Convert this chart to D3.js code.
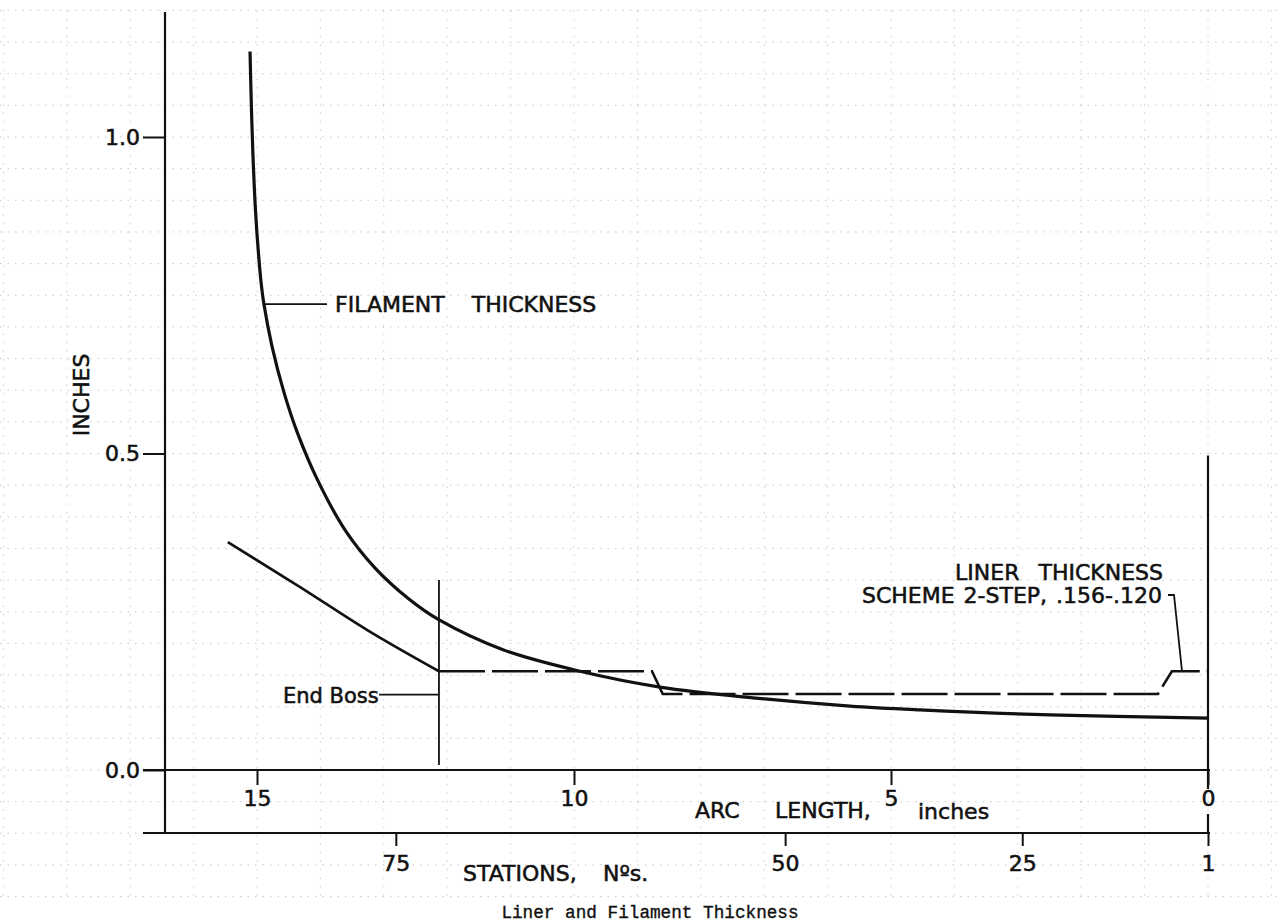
<!DOCTYPE html>
<html>
<head>
<meta charset="utf-8">
<script src="https://cdn.jsdelivr.net/npm/d3@7"></script>
<style>
  body { margin: 0; background: #fff; }
  svg { display: block; }
</style>
</head>
<body>
<svg id="c" width="1278" height="924"></svg>
<script>
// ---------- data ----------
// Filament thickness: arc length (inches) vs thickness (inches)
const filamentArc = [15.110, 15.084, 15.057, 15.022, 14.976, 14.931, 14.891, 14.765, 14.576, 14.356, 14.044, 13.610, 13.137, 12.614, 12.126, 11.120, 9.905, 8.644, 7.177, 5.647, 4.543, 2.492, 0];
const filamentIn  = [1.135, 1.032, 0.954, 0.881, 0.815, 0.766, 0.736, 0.670, 0.597, 0.531, 0.458, 0.379, 0.319, 0.271, 0.237, 0.190, 0.156, 0.131, 0.114, 0.101, 0.095, 0.087, 0.082];

// Liner thickness, solid (end boss taper) part
const linerTaperArc = [15.46, 14.32, 13.26, 12.13];
const linerTaperIn  = [0.36, 0.289, 0.221, 0.156];

// Liner thickness, 2-step scheme (dashed) part
const linerStepArc = [12.13, 8.77, 8.60, 0.79, 0.57, 0];
const linerStepIn  = [0.156, 0.156, 0.120, 0.120, 0.156, 0.156];

// Axes
const yTicks = [0, 0.5, 1.0];
const yTickLabels = ["0.0", "0.5", "1.0"];
const arcTicks = [15, 10, 5, 0];
const arcTickLabels = ["15", "10", "5", "0"];
const stationTicks = [75, 50, 25, 1];
const stationTickLabels = ["75", "50", "25", "1"];
const stationArc = [12.81, 6.67, 2.93, 0];   // arc length where each station sits

const endBossArc = 12.13;

// ---------- scales ----------
const svg = d3.select("#c");
const x = d3.scaleLinear().domain([0, 15]).range([1208, 257]);
const y = d3.scaleLinear().domain([0, 1]).range([770, 137]);
const xStation = d3.scaleLinear().domain(stationTicks).range(stationArc.map(s => x(s)));
const yStationAxis = 833;
const FONT = "DejaVu Sans";
const INK = "#111";
const TXT_STROKE = 0.55;

// ---------- graph paper grid ----------
const grid = svg.append("g");
const gridH = d3.range(-4, 25).map(k => +(k * 0.05).toFixed(2));
const gridV = d3.range(-1, 20);
grid.selectAll("line.h").data(gridH).join("line").attr("class", "h")
  .attr("x1", 0).attr("x2", 1278)
  .attr("y1", d => y(d)).attr("y2", d => y(d))
  .attr("stroke", "#777").attr("stroke-width", 1)
  .attr("stroke-dasharray", "1.5,6").attr("opacity", 0.4);
grid.selectAll("line.v").data(gridV).join("line").attr("class", "v")
  .attr("x1", d => x(d)).attr("x2", d => x(d))
  .attr("y1", y(1.2)).attr("y2", y(-0.2))
  .attr("stroke", "#777").attr("stroke-width", 1)
  .attr("stroke-dasharray", "1.5,7").attr("opacity", 0.35);

// ---------- axes ----------
function styleAxis(g) {
  g.select(".domain").remove();
  g.selectAll("line").attr("stroke", INK).attr("stroke-width", 2);
  g.selectAll("text").attr("font-family", FONT).attr("font-size", 22).attr("fill", INK)
    .attr("stroke", INK).attr("stroke-width", TXT_STROKE);
}

// y axis
const yAxis = d3.axisLeft(y).tickValues(yTicks)
  .tickFormat((d, i) => yTickLabels[i]).tickSize(22).tickPadding(3);
svg.append("g").attr("transform", "translate(165,0)").call(yAxis).call(styleAxis);
svg.append("line").attr("x1", 165).attr("x2", 165).attr("y1", 12).attr("y2", yStationAxis)
  .attr("stroke", INK).attr("stroke-width", 2.2);

// arc length axis
const arcAxis = d3.axisBottom(x).tickValues(arcTicks)
  .tickFormat((d, i) => arcTickLabels[i]).tickSize(15).tickPadding(5);
svg.append("g").attr("transform", `translate(0,${y(0)})`).call(arcAxis).call(styleAxis);
svg.append("line").attr("x1", 143).attr("x2", 1210).attr("y1", y(0)).attr("y2", y(0))
  .attr("stroke", INK).attr("stroke-width", 2.2);

// stations axis
const stAxis = d3.axisBottom(xStation).tickValues(stationTicks)
  .tickFormat((d, i) => stationTickLabels[i]).tickSize(13).tickPadding(9);
svg.append("g").attr("transform", `translate(0,${yStationAxis})`).call(stAxis).call(styleAxis);
svg.append("line").attr("x1", 143).attr("x2", 1210).attr("y1", yStationAxis).attr("y2", yStationAxis)
  .attr("stroke", INK).attr("stroke-width", 2.2);

// right vertical line at arc length 0 (broken around the "0" label)
svg.append("line").attr("x1", x(0)).attr("x2", x(0)).attr("y1", y(0.497)).attr("y2", y(0) + 19)
  .attr("stroke", INK).attr("stroke-width", 2.2);
svg.append("line").attr("x1", x(0)).attr("x2", x(0)).attr("y1", y(0) + 44).attr("y2", yStationAxis)
  .attr("stroke", INK).attr("stroke-width", 2.2);

// end boss vertical line
svg.append("line").attr("x1", x(endBossArc)).attr("x2", x(endBossArc))
  .attr("y1", y(0.30)).attr("y2", y(0.008))
  .attr("stroke", INK).attr("stroke-width", 1.8);

// ---------- curves ----------
const filamentPts = filamentArc.map((s, i) => [s, filamentIn[i]]);
svg.append("path")
  .datum(filamentPts)
  .attr("d", d3.line().x(d => x(d[0])).y(d => y(d[1])).curve(d3.curveCatmullRom.alpha(0.5)))
  .attr("fill", "none").attr("stroke", INK).attr("stroke-width", 3.2)
  .attr("stroke-linejoin", "round");

svg.append("path")
  .datum(linerTaperArc.map((s, i) => [s, linerTaperIn[i]]))
  .attr("d", d3.line().x(d => x(d[0])).y(d => y(d[1])).curve(d3.curveMonotoneX))
  .attr("fill", "none").attr("stroke", INK).attr("stroke-width", 2.6);

svg.append("path")
  .datum(linerStepArc.map((s, i) => [s, linerStepIn[i]]))
  .attr("d", d3.line().x(d => x(d[0])).y(d => y(d[1])))
  .attr("fill", "none").attr("stroke", INK).attr("stroke-width", 2.6)
  .attr("stroke-dasharray", "46,7");

// ---------- labels ----------
function txt(str, xx, yy, opts = {}) {
  const t = svg.append("text").attr("x", xx).attr("y", yy)
    .attr("font-family", opts.family || FONT)
    .attr("font-size", opts.size || 22)
    .attr("fill", opts.fill || INK)
    .attr("stroke", opts.fill || INK)
    .attr("stroke-width", opts.sw !== undefined ? opts.sw : TXT_STROKE)
    .attr("text-anchor", opts.anchor || "start")
    .text(str);
  if (opts.ws) t.attr("word-spacing", opts.ws);
  return t;
}

// y title
svg.append("text").attr("transform", "translate(89,395) rotate(-90)")
  .attr("text-anchor", "middle").attr("font-family", FONT).attr("font-size", 22)
  .attr("fill", INK).attr("stroke", INK).attr("stroke-width", TXT_STROKE).text("INCHES");

// x titles
txt("ARC", 695, 818);
txt("LENGTH,", 775, 818);
txt("inches", 918, 819);
txt("STATIONS,", 463, 881);
txt("Nºs.", 603, 881);

// FILAMENT annotation (leader starts on the curve)
const lead = filamentPts[6];
svg.append("line").attr("x1", x(lead[0])).attr("x2", 327).attr("y1", y(lead[1])).attr("y2", y(lead[1]))
  .attr("stroke", INK).attr("stroke-width", 1.8);
txt("FILAMENT THICKNESS", 335, 312, { ws: 20 });

// End Boss annotation
txt("End Boss", 283, 703, { size: 21 });
svg.append("line").attr("x1", 379).attr("x2", x(endBossArc)).attr("y1", y(0.119)).attr("y2", y(0.119))
  .attr("stroke", INK).attr("stroke-width", 1.8);

// Liner annotation
txt("LINER THICKNESS", 1163, 580, { anchor: "end", ws: 12 });
txt("SCHEME 2-STEP, .156-.120", 1162, 603, { anchor: "end", ws: 2 });
svg.append("path")
  .attr("d", `M1168,595 L1174,595 L${x(0.41)},${y(0.156)}`)
  .attr("fill", "none").attr("stroke", INK).attr("stroke-width", 1.8);

// caption
txt("Liner and Filament Thickness", 650, 918,
  { family: "Liberation Mono", size: 17.7, anchor: "middle", fill: "#111", sw: 0.35 });
</script>
</body>
</html>
